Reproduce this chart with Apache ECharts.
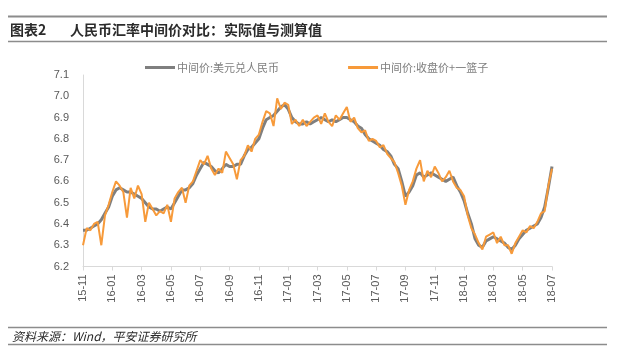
<!DOCTYPE html>
<html>
<head>
<meta charset="utf-8">
<script src="https://cdn.jsdelivr.net/npm/echarts@6/dist/echarts.min.js"></script>
<style>
html,body{margin:0;padding:0;background:#fff;}
#chart{width:620px;height:358px;}
</style>
</head>
<body>
<div id="chart"></div>
<script>
// Tick labels (one per month, shown every second month)
var monthLabels = ['15-11','15-12','16-01','16-02','16-03','16-04','16-05','16-06','16-07','16-08','16-09','16-10','16-11','16-12',
  '17-01','17-02','17-03','17-04','17-05','17-06','17-07','17-08','17-09','17-10','17-11','17-12',
  '18-01','18-02','18-03','18-04','18-05','18-06','18-07'];

var seriesNames = ['中间价:美元兑人民币', '中间价:收盘价+一篮子'];

// 中间价:美元兑人民币 (approx. weekly, 4 per month)
var actualValues = [
  6.37,6.37,6.38,6.39, 6.40,6.42,6.45,6.48, 6.53,6.56,6.57,6.56, 6.55,6.55,6.54,6.53,
  6.52,6.50,6.48,6.47, 6.47,6.46,6.47,6.48, 6.47,6.50,6.53,6.56, 6.56,6.57,6.59,6.63,
  6.66,6.69,6.68,6.67, 6.65,6.64,6.66,6.68, 6.67,6.67,6.68,6.68, 6.72,6.75,6.76,6.78,
  6.80,6.85,6.89,6.90, 6.91,6.93,6.95,6.96, 6.94,6.90,6.88,6.87, 6.87,6.88,6.87,6.88,
  6.89,6.90,6.89,6.88, 6.89,6.88,6.89,6.90, 6.90,6.89,6.88,6.86, 6.85,6.82,6.80,6.79,
  6.78,6.77,6.75,6.74, 6.72,6.68,6.66,6.60, 6.53,6.55,6.58,6.63, 6.64,6.62,6.63,6.64,
  6.63,6.62,6.61,6.60, 6.61,6.62,6.58,6.55, 6.51,6.45,6.40,6.33, 6.30,6.29,6.32,6.33,
  6.34,6.33,6.32,6.31, 6.29,6.28,6.30,6.33, 6.35,6.37,6.38,6.39, 6.40,6.43,6.48,6.57,
  6.67
];

// 中间价:收盘价+一篮子 (approx. weekly, 4 per month)
var estimateValues = [
  6.30,6.38,6.37,6.40, 6.41,6.30,6.44,6.49, 6.55,6.60,6.58,6.55, 6.43,6.57,6.52,6.58,
  6.54,6.41,6.50,6.47, 6.44,6.46,6.45,6.49, 6.41,6.52,6.55,6.57, 6.50,6.58,6.60,6.65,
  6.70,6.68,6.72,6.66, 6.63,6.66,6.64,6.74, 6.71,6.68,6.61,6.70, 6.72,6.77,6.74,6.80,
  6.82,6.88,6.93,6.92, 6.86,6.99,6.94,6.97, 6.96,6.87,6.89,6.86, 6.89,6.86,6.88,6.90,
  6.91,6.87,6.92,6.88, 6.86,6.91,6.89,6.92, 6.95,6.88,6.90,6.85, 6.83,6.84,6.79,6.80,
  6.79,6.76,6.77,6.73, 6.71,6.69,6.64,6.58, 6.49,6.56,6.60,6.66, 6.70,6.60,6.65,6.62,
  6.67,6.64,6.60,6.62, 6.65,6.60,6.57,6.56, 6.53,6.44,6.38,6.35, 6.31,6.28,6.34,6.35,
  6.36,6.31,6.34,6.30, 6.30,6.26,6.31,6.34, 6.37,6.36,6.39,6.38, 6.41,6.45,6.46,6.58,
  6.66
];

var yTicks = { min: 6.2, max: 7.1, interval: 0.1 };
var perMonth = 4;

// Build category list: 4 points per month, last point is the final month label
var categories = [];
for (var m = 0; m < monthLabels.length - 1; m++) {
  for (var s = 0; s < perMonth; s++) {
    categories.push(s === 0 ? monthLabels[m] : monthLabels[m] + '#' + s);
  }
}
categories.push(monthLabels[monthLabels.length - 1]);

var showTick = function (idx) { return idx % (perMonth * 2) === 0; };

var chart = echarts.init(document.getElementById('chart'), null, { renderer: 'canvas' });

var option = {
  backgroundColor: '#fff',
  animation: false,
  textStyle: { fontFamily: '"Liberation Sans", Arial, "Noto Sans CJK SC", sans-serif' },
  graphic: [
    { type: 'line', shape: { x1: 8, y1: 16.5, x2: 607, y2: 16.5 }, style: { stroke: '#8c8c8c', lineWidth: 2 } },
    { type: 'text', x: 10, y: 29.5, style: { text: '图表2', font: 'bold 14px "Noto Sans CJK SC", sans-serif', fill: '#2b2b2b', verticalAlign: 'middle' } },
    { type: 'text', x: 70, y: 29.5, style: { text: '人民币汇率中间价对比：实际值与测算值', font: 'bold 14px "Noto Sans CJK SC", sans-serif', fill: '#2b2b2b', verticalAlign: 'middle' } },
    { type: 'line', shape: { x1: 8, y1: 41.5, x2: 607, y2: 41.5 }, style: { stroke: '#8c8c8c', lineWidth: 1.5 } },
    { type: 'line', shape: { x1: 8, y1: 327.5, x2: 607, y2: 327.5 }, style: { stroke: '#8c8c8c', lineWidth: 1.5 } },
    { type: 'text', x: 12, y: 336, style: { text: '资料来源：Wind，平安证券研究所', font: 'italic 12px "Noto Sans CJK SC", sans-serif', fill: '#2b2b2b', verticalAlign: 'middle' } },
    { type: 'line', shape: { x1: 8, y1: 344.5, x2: 607, y2: 344.5 }, style: { stroke: '#8c8c8c', lineWidth: 1.5 } }
  ],
  legend: {
    left: 140,
    top: 57,
    itemWidth: 30,
    itemHeight: 3,
    itemGap: 69,
    icon: 'rect',
    textStyle: { fontSize: 11, color: '#7f7f7f', fontFamily: '"Noto Sans CJK SC", sans-serif', padding: [0, 0, 0, -3] },
    data: seriesNames
  },
  grid: { left: 83, right: 68, top: 75, bottom: 91.5, containLabel: false },
  xAxis: {
    type: 'category',
    data: categories,
    boundaryGap: false,
    axisLine: { lineStyle: { color: '#d9d9d9', width: 1 } },
    axisTick: { show: true, interval: showTick, length: 4, lineStyle: { color: '#d9d9d9' } },
    axisLabel: {
      interval: showTick,
      rotate: 90,
      margin: 8,
      fontSize: 11,
      color: '#595959',
      formatter: function (v) { return v.split('#')[0]; }
    },
    splitLine: { show: false }
  },
  yAxis: {
    type: 'value',
    min: yTicks.min,
    max: yTicks.max,
    interval: yTicks.interval,
    axisLine: { show: true, lineStyle: { color: '#d9d9d9', width: 1 } },
    axisTick: { show: false },
    axisLabel: { fontSize: 11, color: '#595959', margin: 14, formatter: function (v) { return v.toFixed(1); } },
    splitLine: { show: false }
  },
  series: [
    {
      name: seriesNames[0],
      type: 'line',
      data: actualValues,
      showSymbol: false,
      symbol: 'none',
      lineStyle: { color: '#7f7f7f', width: 3 },
      itemStyle: { color: '#7f7f7f' },
      z: 2
    },
    {
      name: seriesNames[1],
      type: 'line',
      data: estimateValues,
      showSymbol: false,
      symbol: 'none',
      lineStyle: { color: '#f79a3a', width: 2 },
      itemStyle: { color: '#f79a3a' },
      z: 3
    }
  ]
};
chart.setOption(option);
</script>
</body>
</html>
